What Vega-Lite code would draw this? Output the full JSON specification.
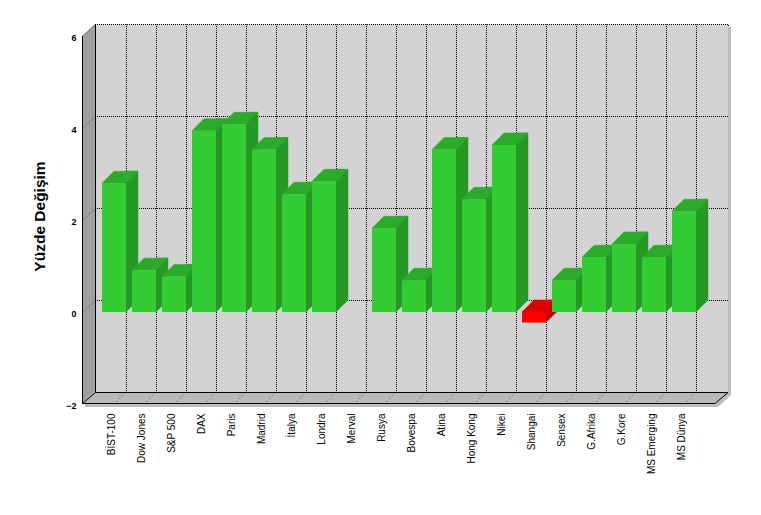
{
  "$schema": "https://vega.github.io/schema/vega-lite/v6.json",
  "width": 633,
  "height": 368,
  "autosize": {"type": "none"},
  "padding": {"left": 95, "top": 24, "right": 33, "bottom": 123},
  "background": "white",
  "config": {
    "view": {"fill": "#d3d3d3", "stroke": "black", "strokeDash": [1, 1], "strokeDashOffset": 0.5, "strokeWidth": 1},
    "font": "Liberation Sans",
    "axisY": {
      "tickCount": 4,
      "ticks": false,
      "domain": true,
      "domainColor": "black",
      "grid": true,
      "gridColor": "black",
      "gridDash": [1, 1],
      "gridDashOffset": 0.5,
      "gridOpacity": 1,
      "labelFont": "Liberation Sans",
      "labelFontWeight": "bold",
      "labelFontSize": 9,
      "labelColor": "black",
      "labelPadding": 19,
      "labelOffset": 13,
      "labelOverlap": false,
      "labelFlush": false,
      "titleFont": "Liberation Sans",
      "titleFontSize": 15.5,
      "titleFontWeight": "bold",
      "titleColor": "black",
      "titleAngle": -90,
      "titleAlign": "center",
      "titleBaseline": "middle",
      "titleX": -56,
      "titleY": 192
    }
  },
  "datasets": {
    "markets": [
      {"market": "BİST-100", "value": 2.80},
      {"market": "Dow Jones", "value": 0.91},
      {"market": "S&P 500", "value": 0.77},
      {"market": "DAX", "value": 3.94},
      {"market": "Paris", "value": 4.08},
      {"market": "Madrid", "value": 3.53},
      {"market": "İtalya", "value": 2.56},
      {"market": "Londra", "value": 2.84},
      {"market": "Merval", "value": null},
      {"market": "Rusya", "value": 1.82},
      {"market": "Bovespa", "value": 0.69},
      {"market": "Atina", "value": 3.53},
      {"market": "Hong Kong", "value": 2.45},
      {"market": "Nikei", "value": 3.63},
      {"market": "Shangai", "value": -0.23},
      {"market": "Sensex", "value": 0.69},
      {"market": "G.Afrika", "value": 1.19},
      {"market": "G.Kore", "value": 1.48},
      {"market": "MS Emerging", "value": 1.19},
      {"market": "MS Dünya", "value": 2.19}
    ],
    "yticks": [{"t": 6}, {"t": 4}, {"t": 2}, {"t": 0}],
    "frame": [{"part": "frame"}]
  },
  "data": {"name": "markets"},
  "encoding": {
    "x": {
      "field": "market",
      "type": "nominal",
      "sort": null,
      "scale": {
        "domain": ["BİST-100", "Dow Jones", "S&P 500", "DAX", "Paris", "Madrid", "İtalya", "Londra", "Merval", "Rusya", "Bovespa", "Atina", "Hong Kong", "Nikei", "Shangai", "Sensex", "G.Afrika", "G.Kore", "MS Emerging", "MS Dünya"],
        "paddingInner": 0.2,
        "paddingOuter": 0.65,
        "align": 0.17949,
        "round": false
      },
      "axis": {
        "title": null,
        "ticks": false,
        "bandPosition": 0.5,
        "tickOffset": 12,
        "domain": true,
        "domainColor": "black",
        "grid": true,
        "gridColor": "black",
        "gridDash": [1, 1],
        "gridDashOffset": 0.5,
        "gridOpacity": 1,
        "labelAngle": -90,
        "labelAlign": "right",
        "labelBaseline": "middle",
        "labelPadding": 21,
        "labelOffset": -14.7,
        "labelFont": "Liberation Sans",
        "labelFontSize": 10,
        "labelColor": "black",
        "labelOverlap": false
      }
    }
  },
  "layer": [
    {
      "data": {"name": "frame"},
      "mark": {"type": "point", "shape": "M633,3L636,3L636,371L623,383L-10,383L-10,380L620,380L633,368Z", "size": 4, "filled": true, "fill": "#bdbdbd", "strokeWidth": 0, "opacity": 1},
      "encoding": {"x": {"value": 0}, "y": {"datum": 6, "title": "Yüzde Değişim"}}
    },
    {
      "data": {"name": "frame"},
      "mark": {"type": "point", "shape": "M0,0L0,368L-13,380L-13,12Z", "size": 4, "filled": true, "fill": "#a0a0a0", "strokeWidth": 0, "opacity": 1},
      "encoding": {"x": {"value": 0}, "y": {"datum": 6, "title": "Yüzde Değişim"}}
    },
    {
      "data": {"name": "frame"},
      "mark": {"type": "point", "shape": "M0,368L633,368L620,380L-13,380Z", "size": 4, "filled": true, "fill": "#b9b9b9", "strokeWidth": 0, "opacity": 1},
      "encoding": {"x": {"value": 0}, "y": {"datum": 6, "title": "Yüzde Değişim"}}
    },
    {
      "data": {"name": "yticks"},
      "mark": {"type": "point", "shape": "M0.5,0.5L-12.5,12.5", "size": 4, "filled": false, "stroke": "#808080", "strokeWidth": 1, "opacity": 1},
      "encoding": {"x": {"value": 0}, "y": {"field": "t", "type": "quantitative", "title": "Yüzde Değişim"}}
    },
    {
      "mark": {"type": "point", "shape": "M12,0L0,12", "size": 4, "filled": false, "stroke": "#7a7a7a", "strokeWidth": 1, "strokeDash": [2, 2], "opacity": 1},
      "encoding": {"y": {"datum": -2, "title": "Yüzde Değişim"}}
    },
    {
      "data": {"name": "frame"},
      "mark": {"type": "point", "shape": "M-12.5,12L-12.5,379.5L620,379.5L633,368.5M-12.5,379.5L0.5,368.5M0.5,0L0.5,368.5L633,368.5", "size": 4, "filled": false, "stroke": "black", "strokeWidth": 1, "opacity": 1},
      "encoding": {"x": {"value": 0}, "y": {"datum": 6, "title": "Yüzde Değişim"}}
    },
    {
      "transform": [{"filter": "datum.value != null"}],
      "mark": {"type": "bar", "width": 12, "xOffset": 18, "strokeWidth": 0.5},
      "encoding": {
        "y": {"field": "value", "type": "quantitative", "title": "Yüzde Değişim"},
        "y2": {"datum": 0},
        "fill": {"condition": {"test": "datum.value < 0", "value": "#c20000"}, "value": "#249a24"},
        "stroke": {"condition": {"test": "datum.value < 0", "value": "#c20000"}, "value": "#249a24"}
      }
    },
    {
      "transform": [{"filter": "datum.value > 0"}],
      "mark": {"type": "point", "shape": "M12,-12L12,0L24,-12Z", "size": 4, "filled": true, "fill": "#249a24", "stroke": "#249a24", "strokeWidth": 0.5, "opacity": 1, "yOffset": 12},
      "encoding": {"y": {"datum": 0, "title": "Yüzde Değişim"}}
    },
    {
      "transform": [{"filter": "datum.value < 0"}],
      "mark": {"type": "point", "shape": "M12,-12L12,0L24,-12Z", "size": 4, "filled": true, "fill": "#c20000", "stroke": "#c20000", "strokeWidth": 0.5, "opacity": 1, "yOffset": 12},
      "encoding": {"y": {"field": "value", "type": "quantitative", "title": "Yüzde Değişim"}}
    },
    {
      "transform": [{"filter": "datum.value > 0"}],
      "mark": {"type": "point", "shape": "M-12,0L12,0L24,-12L0,-12Z", "size": 4, "filled": true, "fill": "#2aab2a", "stroke": "#2aab2a", "strokeWidth": 0.5, "opacity": 1, "yOffset": 12},
      "encoding": {"y": {"field": "value", "type": "quantitative", "title": "Yüzde Değişim"}}
    },
    {
      "transform": [{"filter": "datum.value < 0"}],
      "mark": {"type": "point", "shape": "M-12,0L12,0L24,-12L0,-12Z", "size": 4, "filled": true, "fill": "#dc0000", "stroke": "#dc0000", "strokeWidth": 0.5, "opacity": 1, "yOffset": 12},
      "encoding": {"y": {"datum": 0, "title": "Yüzde Değişim"}}
    },
    {
      "transform": [{"filter": "datum.value != null"}],
      "mark": {"type": "bar", "yOffset": 12, "y2Offset": 12},
      "encoding": {
        "y": {
          "field": "value",
          "type": "quantitative",
          "title": "Yüzde Değişim",
          "scale": {"domain": [-2, 6], "nice": false, "zero": false}
        },
        "y2": {"datum": 0},
        "fill": {"condition": {"test": "datum.value < 0", "value": "#ff0000"}, "value": "#33cc33"}
      }
    }
  ]
}
